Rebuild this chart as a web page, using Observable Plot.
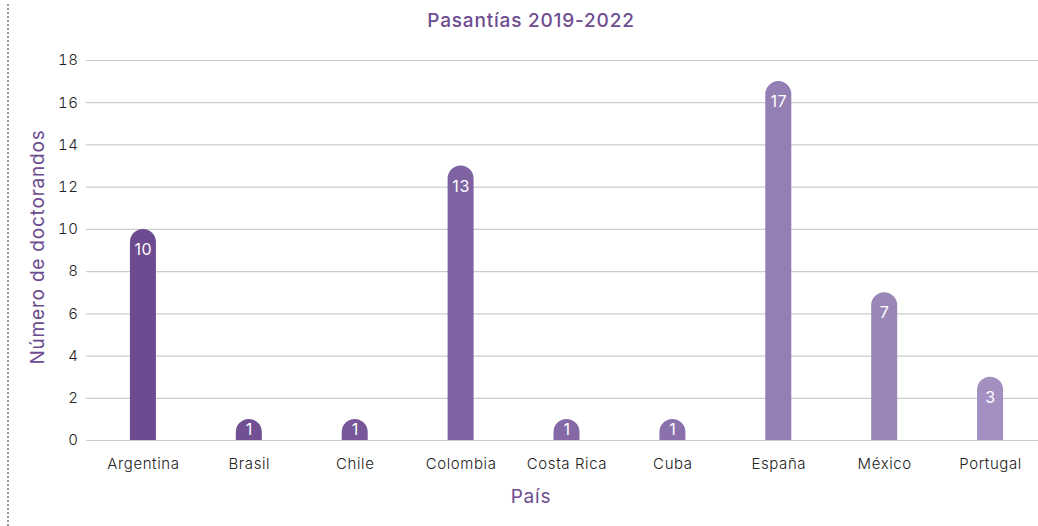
<!DOCTYPE html>
<html>
<head>
<meta charset="utf-8">
<script src="https://cdn.jsdelivr.net/npm/d3@7"></script>
<script src="https://cdn.jsdelivr.net/npm/@observablehq/plot@0.6"></script>
<style>
  html, body { margin: 0; padding: 0; background: #fff; }
  #wrap { position: relative; width: 1038px; height: 526px; font-family: Inter, "Noto Sans", sans-serif; overflow: hidden; }
  #dots { position: absolute; left: 7px; top: 4px; height: 522px; border-left: 2px dotted #9a9a9a; }
  .lbl { position: absolute; color: #6d4c91; font-size: 19px; letter-spacing: 0.8px; white-space: nowrap; }
  #title { left: 531px; top: 9px; transform: translateX(-50%); font-weight: 500; }
  #xlab { left: 531px; top: 485px; transform: translateX(-50%); }
  #ylab { left: 37px; top: 247px; transform: translate(-50%, -50%) rotate(-90deg); }
  #chart { position: absolute; left: 0; top: 0; }
  #chart svg text { letter-spacing: 0.6px; }
</style>
</head>
<body>
<div id="wrap">
  <div id="dots"></div>
  <div id="chart"></div>
  <div class="lbl" id="title">Pasantías 2019-2022</div>
  <div class="lbl" id="ylab">Número de doctorandos</div>
  <div class="lbl" id="xlab">País</div>
</div>
<script>
const countries = ["Argentina", "Brasil", "Chile", "Colombia", "Costa Rica", "Cuba", "España", "México", "Portugal"];
const values = [10, 1, 1, 13, 1, 1, 17, 7, 3];
const colors = ["#6c4b90", "#714f93", "#775799", "#7f62a1", "#8569a6", "#8b71ab", "#937fb3", "#9a87b8", "#a390c1"];
const yTicks = [0, 2, 4, 6, 8, 10, 12, 14, 16, 18];

const data = countries.map((c, i) => ({country: c, value: values[i], color: colors[i]}));

const chart = Plot.plot({
  width: 1038,
  height: 526,
  marginTop: 60,
  marginBottom: 86,
  marginLeft: 86,
  marginRight: 0,
  style: {fontFamily: "Inter, 'Noto Sans', sans-serif", fontSize: "15px", fontWeight: 300, color: "#222", background: "transparent"},
  x: {domain: countries, range: [90, 1043], paddingInner: 0.7545, paddingOuter: 0.377, align: 0.5, round: false, label: null, tickSize: 0, tickPadding: 18},
  y: {domain: [0, 18], ticks: yTicks, label: null, tickSize: 0, tickPadding: 8, grid: false},
  marks: [
    Plot.ruleY(yTicks, {stroke: "#cccccc", strokeWidth: 1.2}),
    Plot.barY(data, {x: "country", y: "value", fill: "color", ry1: 13}),
    Plot.text(data, {x: "country", y: d => Math.max(d.value - 0.97, d.value / 2), text: d => String(d.value), fill: "white", fontSize: 16, fontWeight: 400})
  ]
});
document.getElementById("chart").appendChild(chart);
</script>
</body>
</html>
